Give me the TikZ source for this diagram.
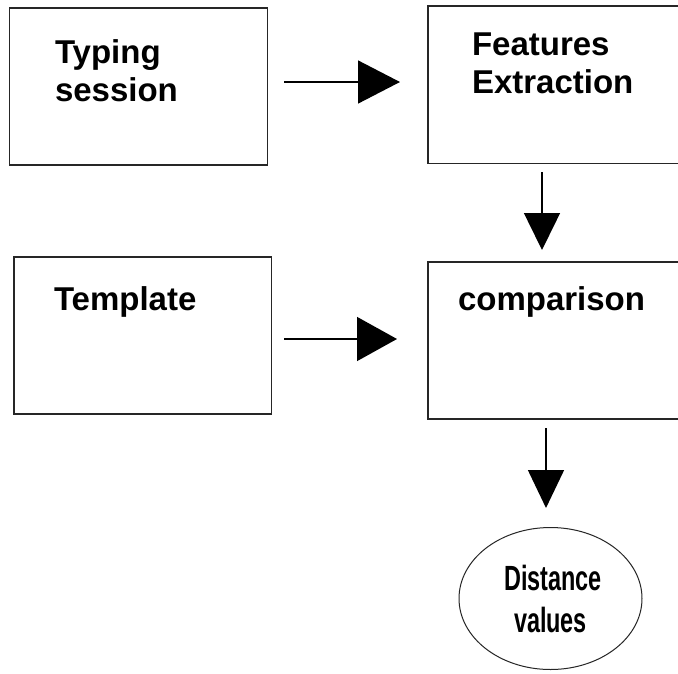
\documentclass[tikz,border=0pt]{standalone}
\usepackage{fontspec}
\setmainfont{Liberation Sans}
\newfontfamily\narrowfont{Liberation Sans Bold}[FakeStretch=0.67]
\usetikzlibrary{arrows.meta,shapes.geometric}
\begin{document}
\begin{tikzpicture}[x=1pt,y=-1pt,
  box/.style={draw=black!85, line width=1.8pt, rectangle, inner sep=0pt, outer sep=0pt, anchor=north west},
  lbl/.style={font=\fontsize{33}{38}\selectfont\bfseries, inner sep=0pt, outer sep=0pt, align=left},
  conn/.style={line width=1.5pt, draw=black},
]
\clip (0,0) rectangle (678,673);
\fill[white] (0,0) rectangle (678,673);

% boxes
\node[box, minimum width=258pt, minimum height=157pt] (b1) at (9.5,8.3) {};
\node[box, minimum width=272pt, minimum height=157.5pt] (b2) at (428,6) {};
\node[box, minimum width=257.5pt, minimum height=157pt] (b3) at (14,257) {};
\node[box, minimum width=272pt, minimum height=157pt] (b4) at (428,262) {};

% labels
\node[lbl, anchor=north west] (t1) at (55,39.4) {Typing\\session};
\node[lbl, anchor=north west] (t2) at (472,32.4) {Features\\Extraction};
\node[lbl, anchor=base west] (t3) at (54,310) {Template};
\node[lbl, anchor=base west] (t4) at (458,310) {comparison};

% result ellipse
\node[draw=black!85, line width=1pt, ellipse, minimum width=183pt, minimum height=142pt,
      inner sep=0pt, outer sep=0pt, align=center,
      font=\narrowfont\fontsize{35}{42}\selectfont] (dv) at (550.5,598.5) {\hspace*{5pt}Distance\\values};

% connectors
\path ([yshift=4.8pt]b1.east) coordinate (p1);
\draw[conn, -{Triangle[length=42pt,width=43pt]}, shorten <=16.5pt, shorten >=28pt]
  (p1) -- (p1 -| b2.west);

\path ([yshift=-3.5pt]b3.east) coordinate (p3);
\draw[conn, -{Triangle[length=40pt,width=44pt]}, shorten <=12.5pt, shorten >=31pt]
  (p3) -- (p3 -| b4.west);

\coordinate (c2) at (542,0);
\draw[conn, -{Triangle[length=37pt,width=36pt]}, shorten <=8.5pt, shorten >=12pt]
  (c2 |- b2.south) -- (c2 |- b4.north);

\coordinate (c4) at (546,0);
\draw[conn, -{Triangle[length=38pt,width=36pt]}, shorten <=9pt, shorten >=19.5pt]
  (c4 |- b4.south) -- (c4 |- dv.north);
\end{tikzpicture}
\end{document}
